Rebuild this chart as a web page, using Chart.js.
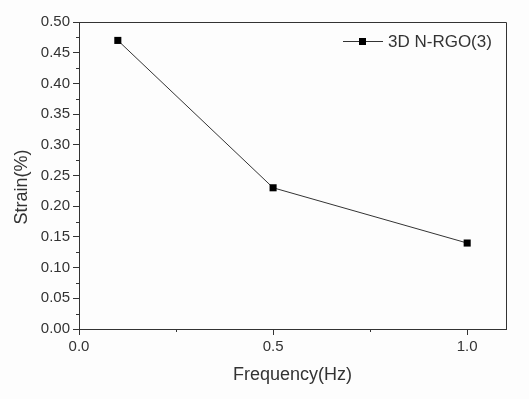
<!doctype html>
<html lang="en">
<head>
    <meta charset="utf-8">
    <script src="https://cdn.jsdelivr.net/npm/chart.js@4.4.1/dist/chart.umd.min.js"></script>
    <style>
        html, body { margin: 0; padding: 0; background: #fdfdfd; }
        #wrap { width: 529px; height: 399px; }
    </style>
</head>
<body>
<div id="wrap"><canvas id="myChart"></canvas></div>
<script>
    // data
    var frequency = [0.1, 0.5, 1.0];
    var strain = [0.47, 0.23, 0.14];
    var seriesName = '3D N-RGO(3)';
    var yTitle = 'Strain(%)';
    var xTicks = [0, 0.5, 1.0];
    var xMinor = [0.25, 0.75];

    var INK = '#333333';
    var FONT = "'Liberation Sans', Arial, sans-serif";

    var points = frequency.map(function (f, i) { return { x: f, y: strain[i] }; });

    // frame, minor ticks, y title and legend
    var extras = {
        id: 'extras',
        afterDraw: function (chart) {
            var ctx = chart.ctx;
            var a = chart.chartArea;
            var xs = chart.scales.x, ys = chart.scales.y;
            ctx.save();
            ctx.strokeStyle = INK;
            ctx.lineWidth = 1;
            // top + right frame
            ctx.beginPath();
            ctx.moveTo(a.left, a.top + 0.5);
            ctx.lineTo(a.right + 0.5, a.top + 0.5);
            ctx.lineTo(a.right + 0.5, a.bottom);
            ctx.stroke();
            // minor ticks
            ctx.beginPath();
            xMinor.forEach(function (v) {
                var px = Math.round(xs.getPixelForValue(v)) + 0.5;
                ctx.moveTo(px, a.bottom);
                ctx.lineTo(px, a.bottom + 3);
            });
            for (var k = 0; k < 10; k++) {
                var py = Math.round(ys.getPixelForValue(0.025 + k * 0.05)) + 0.5;
                ctx.moveTo(a.left, py);
                ctx.lineTo(a.left - 3, py);
            }
            ctx.stroke();
            // y title, sits a bit below the middle as in the original
            ctx.save();
            ctx.translate(22, 187);
            ctx.rotate(-Math.PI / 2);
            ctx.fillStyle = INK;
            ctx.font = '18px ' + FONT;
            ctx.textAlign = 'center';
            ctx.textBaseline = 'middle';
            ctx.fillText(yTitle, 0, 0);
            ctx.restore();
            // legend
            var ly = a.top + 19;
            var lx = a.right - 163;
            ctx.beginPath();
            ctx.moveTo(lx, ly + 0.5);
            ctx.lineTo(lx + 40, ly + 0.5);
            ctx.stroke();
            ctx.fillStyle = '#000';
            ctx.fillRect(lx + 16, ly - 3, 7, 7);
            ctx.fillStyle = INK;
            ctx.font = '17px ' + FONT;
            ctx.textBaseline = 'middle';
            ctx.fillText(seriesName, lx + 45, ly + 1);
            ctx.restore();
        }
    };

    new Chart(document.getElementById('myChart'), {
        type: 'line',
        data: {
            datasets: [{
                label: seriesName,
                data: points,
                borderColor: INK,
                borderWidth: 1,
                backgroundColor: '#000',
                pointStyle: 'rect',
                pointRadius: 5,
                pointBorderWidth: 0,
                tension: 0
            }]
        },
        options: {
            responsive: true,
            maintainAspectRatio: false,
            animation: false,
            layout: { padding: { top: 22, right: 23, left: 0, bottom: 0 } },
            plugins: {
                legend: { display: false },
                tooltip: { enabled: false }
            },
            scales: {
                x: {
                    type: 'linear',
                    min: 0,
                    max: 1.1,
                    afterBuildTicks: function (scale) {
                        scale.ticks = xTicks.map(function (v) { return { value: v }; });
                    },
                    afterFit: function (scale) { scale.height = 70; },
                    grid: { display: true, drawOnChartArea: false, tickLength: 6, color: INK },
                    border: { color: INK, width: 1 },
                    ticks: {
                        color: INK,
                        padding: 3,
                        maxRotation: 0,
                        font: { family: FONT, size: 15 },
                        callback: function (v) { return v.toFixed(1); }
                    },
                    title: {
                        display: true,
                        text: 'Frequency(Hz)',
                        color: INK,
                        font: { family: FONT, size: 18 },
                        padding: { top: 0, bottom: 13 }
                    }
                },
                y: {
                    min: 0,
                    max: 0.5,
                    ticks: {
                        stepSize: 0.05,
                        color: INK,
                        padding: 3,
                        font: { family: FONT, size: 15 },
                        callback: function (v) { return v.toFixed(2); }
                    },
                    afterFit: function (scale) { scale.width = 79; },
                    grid: { display: true, drawOnChartArea: false, tickLength: 6, color: INK },
                    border: { color: INK, width: 1 }
                }
            }
        },
        plugins: [extras]
    });
</script>
</body>
</html>
